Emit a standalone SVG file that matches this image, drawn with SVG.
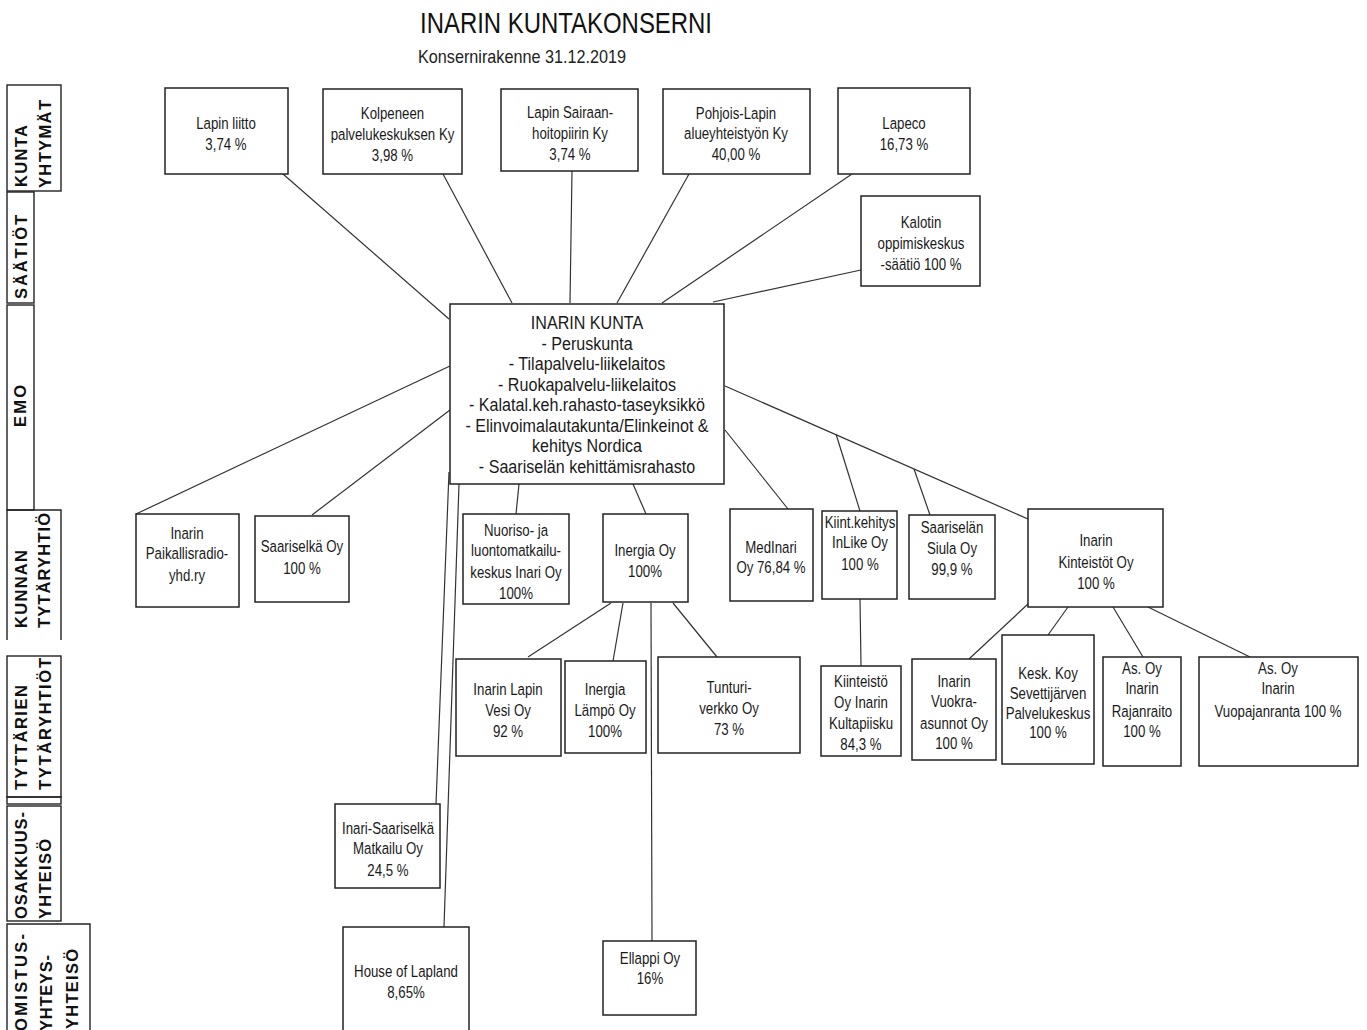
<svg xmlns="http://www.w3.org/2000/svg" width="1367" height="1030" viewBox="0 0 1367 1030">
<style>
.box{fill:#fff;stroke:#222;stroke-width:1.5}
.side{fill:none;stroke:#222;stroke-width:1.4}
.t{font-family:"Liberation Sans",Arial,sans-serif;font-size:17px;fill:#1a1a1a;text-anchor:middle}
.m{font-family:"Liberation Sans",Arial,sans-serif;font-size:18.5px;fill:#1a1a1a;text-anchor:middle}
.lbl{font-family:"Liberation Sans",Arial,sans-serif;font-weight:bold;font-size:16.5px;fill:#111}
.c{stroke:#333;stroke-width:1.2;fill:none}
</style>
<rect width="1367" height="1030" fill="#fff"/>
<g id="title">
<text x="420" y="33" font-family="Liberation Sans, Arial, sans-serif" font-size="30" fill="#111" textLength="292" lengthAdjust="spacingAndGlyphs">INARIN KUNTAKONSERNI</text>
<text x="418" y="63" font-family="Liberation Sans, Arial, sans-serif" font-size="19" fill="#222" textLength="208" lengthAdjust="spacingAndGlyphs">Konsernirakenne 31.12.2019</text>
</g>
<g id="side-labels">
<rect class="side" x="7" y="85" width="54" height="106"/>
<rect class="side" x="7" y="192" width="27" height="111"/>
<rect class="side" x="7" y="305" width="27" height="205"/>
<path class="side" d="M7,640 V510 H61 V640"/>
<rect class="side" x="7" y="656" width="54" height="141"/>
<rect class="side" x="7" y="797" width="54" height="7"/>
<rect class="side" x="7" y="806" width="54" height="115"/>
<path class="side" d="M7,1031 V924 H90 V1031" stroke-width="2"/>
<text class="lbl" transform="translate(27 187) rotate(-90)" textLength="62" lengthAdjust="spacing">KUNTA</text>
<text class="lbl" transform="translate(51 188) rotate(-90)" textLength="88" lengthAdjust="spacing">YHTYMÄT</text>
<text class="lbl" transform="translate(27 299) rotate(-90)" textLength="84" lengthAdjust="spacing">SÄÄTIÖT</text>
<text class="lbl" transform="translate(26 427) rotate(-90)" textLength="42" lengthAdjust="spacing">EMO</text>
<text class="lbl" transform="translate(27 628) rotate(-90)" textLength="78" lengthAdjust="spacing">KUNNAN</text>
<text class="lbl" transform="translate(50 628) rotate(-90)" textLength="115" lengthAdjust="spacing">TYTÄRYHTIÖ</text>
<text class="lbl" transform="translate(27 790) rotate(-90)" textLength="105" lengthAdjust="spacing">TYTTÄRIEN</text>
<text class="lbl" transform="translate(51 790) rotate(-90)" textLength="132" lengthAdjust="spacing">TYTÄRYHTIÖT</text>
<text class="lbl" transform="translate(27 919) rotate(-90)" textLength="107" lengthAdjust="spacing">OSAKKUUS-</text>
<text class="lbl" transform="translate(51 919) rotate(-90)" textLength="80" lengthAdjust="spacing">YHTEISÖ</text>
<text class="lbl" transform="translate(27 1031) rotate(-90)" textLength="97" lengthAdjust="spacing">OMISTUS-</text>
<text class="lbl" transform="translate(52 1031) rotate(-90)" textLength="76" lengthAdjust="spacing">YHTEYS-</text>
<text class="lbl" transform="translate(78 1029) rotate(-90)" textLength="80" lengthAdjust="spacing">YHTEISÖ</text>
</g>
<g id="connectors">
<line class="c" x1="283" y1="174" x2="449" y2="319"/>
<line class="c" x1="443" y1="174" x2="512" y2="303"/>
<line class="c" x1="572" y1="171" x2="570" y2="303"/>
<line class="c" x1="689" y1="174" x2="617" y2="303"/>
<line class="c" x1="852" y1="174" x2="662" y2="303"/>
<line class="c" x1="861" y1="270" x2="713" y2="302"/>
<line class="c" x1="450" y1="366" x2="136" y2="514"/>
<line class="c" x1="450" y1="410" x2="312" y2="515"/>
<line class="c" x1="449" y1="472" x2="436" y2="804"/>
<line class="c" x1="459" y1="484" x2="444" y2="927"/>
<line class="c" x1="519" y1="484" x2="516" y2="514"/>
<line class="c" x1="633" y1="484" x2="646" y2="514"/>
<line class="c" x1="725" y1="430" x2="788" y2="509"/>
<line class="c" x1="725" y1="386" x2="1028" y2="519"/>
<line class="c" x1="836" y1="434" x2="860" y2="511"/>
<line class="c" x1="914" y1="469" x2="930" y2="515"/>
<line class="c" x1="611" y1="603" x2="528" y2="657"/>
<line class="c" x1="623" y1="603" x2="613" y2="661"/>
<line class="c" x1="673" y1="603" x2="717" y2="657"/>
<line class="c" x1="651" y1="603" x2="652" y2="941"/>
<line class="c" x1="860" y1="599" x2="861" y2="666"/>
<line class="c" x1="1028" y1="604" x2="969" y2="659"/>
<line class="c" x1="1068" y1="607" x2="1048" y2="635"/>
<line class="c" x1="1113" y1="607" x2="1143" y2="657"/>
<line class="c" x1="1148" y1="607" x2="1250" y2="657"/>
</g>
<g id="n-lapin-liitto"><rect class="box" x="165" y="88" width="123" height="86"/>
<text class="t" transform="translate(226 0) scale(.78 1)"><tspan x="0" y="129">Lapin liitto</tspan><tspan x="0" y="150">3,74 %</tspan></text></g>
<g id="n-kolpeneen"><rect class="box" x="323" y="89" width="139" height="85"/>
<text class="t" transform="translate(392.5 0) scale(.78 1)"><tspan x="0" y="119">Kolpeneen</tspan><tspan x="0" y="140">palvelukeskuksen Ky</tspan><tspan x="0" y="161">3,98 %</tspan></text></g>
<g id="n-sairaanhoitopiiri"><rect class="box" x="501" y="89" width="137" height="82"/>
<text class="t" transform="translate(570 0) scale(.78 1)"><tspan x="0" y="118">Lapin Sairaan-</tspan><tspan x="0" y="139">hoitopiirin Ky</tspan><tspan x="0" y="160">3,74 %</tspan></text></g>
<g id="n-pohjois-lapin"><rect class="box" x="663" y="89" width="147" height="85"/>
<text class="t" transform="translate(736 0) scale(.78 1)"><tspan x="0" y="119">Pohjois-Lapin</tspan><tspan x="0" y="139">alueyhteistyön Ky</tspan><tspan x="0" y="160">40,00 %</tspan></text></g>
<g id="n-lapeco"><rect class="box" x="838" y="88" width="132" height="86"/>
<text class="t" transform="translate(904 0) scale(.78 1)"><tspan x="0" y="129">Lapeco</tspan><tspan x="0" y="150">16,73 %</tspan></text></g>
<g id="n-kalotin"><rect class="box" x="861" y="196" width="119" height="90"/>
<text class="t" transform="translate(921 0) scale(.78 1)"><tspan x="0" y="228">Kalotin</tspan><tspan x="0" y="249">oppimiskeskus</tspan><tspan x="0" y="270">-säätiö 100 %</tspan></text></g>
<g id="n-inarin-kunta"><rect class="box" x="450" y="304" width="274" height="180"/>
<text class="m" transform="translate(587 0) scale(.87 1)"><tspan x="0" y="329">INARIN  KUNTA</tspan><tspan x="0" y="350">- Peruskunta</tspan><tspan x="0" y="370">- Tilapalvelu-liikelaitos</tspan><tspan x="0" y="391">- Ruokapalvelu-liikelaitos</tspan><tspan x="0" y="411">- Kalatal.keh.rahasto-taseyksikkö</tspan><tspan x="0" y="432">- Elinvoimalautakunta/Elinkeinot  &amp;</tspan><tspan x="0" y="452">kehitys Nordica</tspan><tspan x="0" y="473">- Saariselän  kehittämisrahasto</tspan></text></g>
<g id="n-paikallisradio"><rect class="box" x="136" y="514" width="103" height="93"/>
<text class="t" transform="translate(187 0) scale(.78 1)"><tspan x="0" y="539">Inarin</tspan><tspan x="0" y="559">Paikallisradio-</tspan><tspan x="0" y="581">yhd.ry</tspan></text></g>
<g id="n-saariselka"><rect class="box" x="255" y="516" width="94" height="86"/>
<text class="t" transform="translate(302 0) scale(.78 1)"><tspan x="0" y="552">Saariselkä Oy</tspan><tspan x="0" y="574">100 %</tspan></text></g>
<g id="n-nuoriso"><rect class="box" x="463" y="514" width="106" height="90"/>
<text class="t" transform="translate(516 0) scale(.78 1)"><tspan x="0" y="536">Nuoriso- ja</tspan><tspan x="0" y="556">luontomatkailu-</tspan><tspan x="0" y="578">keskus Inari Oy</tspan><tspan x="0" y="599">100%</tspan></text></g>
<g id="n-inergia"><rect class="box" x="603" y="514" width="85" height="88"/>
<text class="t" transform="translate(645 0) scale(.78 1)"><tspan x="0" y="556">Inergia Oy</tspan><tspan x="0" y="577">100%</tspan></text></g>
<g id="n-medinari"><rect class="box" x="730" y="509" width="83" height="92"/>
<text class="t" transform="translate(771 0) scale(.78 1)"><tspan x="0" y="553">MedInari</tspan><tspan x="0" y="573">Oy 76,84 %</tspan></text></g>
<g id="n-inlike"><rect class="box" x="822" y="511" width="75" height="88"/>
<text class="t" transform="translate(860 0) scale(.78 1)"><tspan x="0" y="528">Kiint.kehitys</tspan><tspan x="0" y="548">InLike Oy</tspan><tspan x="0" y="570">100 %</tspan></text></g>
<g id="n-siula"><rect class="box" x="909" y="515" width="86" height="84"/>
<text class="t" transform="translate(952 0) scale(.78 1)"><tspan x="0" y="533">Saariselän</tspan><tspan x="0" y="554">Siula Oy</tspan><tspan x="0" y="575">99,9 %</tspan></text></g>
<g id="n-kiinteistot"><rect class="box" x="1028" y="509" width="135" height="98"/>
<text class="t" transform="translate(1096 0) scale(.78 1)"><tspan x="0" y="546">Inarin</tspan><tspan x="0" y="568">Kinteistöt Oy</tspan><tspan x="0" y="589">100 %</tspan></text></g>
<g id="n-vesi"><rect class="box" x="456" y="659" width="105" height="97"/>
<text class="t" transform="translate(508 0) scale(.78 1)"><tspan x="0" y="695">Inarin Lapin</tspan><tspan x="0" y="716">Vesi Oy</tspan><tspan x="0" y="737">92 %</tspan></text></g>
<g id="n-lampo"><rect class="box" x="565" y="661" width="81" height="92"/>
<text class="t" transform="translate(605 0) scale(.78 1)"><tspan x="0" y="695">Inergia</tspan><tspan x="0" y="716">Lämpö Oy</tspan><tspan x="0" y="737">100%</tspan></text></g>
<g id="n-tunturiverkko"><rect class="box" x="658" y="657" width="142" height="96"/>
<text class="t" transform="translate(729 0) scale(.78 1)"><tspan x="0" y="693">Tunturi-</tspan><tspan x="0" y="714">verkko Oy</tspan><tspan x="0" y="735">73 %</tspan></text></g>
<g id="n-kultapiisku"><rect class="box" x="821" y="666" width="80" height="90"/>
<text class="t" transform="translate(861 0) scale(.78 1)"><tspan x="0" y="687">Kiinteistö</tspan><tspan x="0" y="708">Oy Inarin</tspan><tspan x="0" y="729">Kultapiisku</tspan><tspan x="0" y="750">84,3 %</tspan></text></g>
<g id="n-vuokra"><rect class="box" x="912" y="659" width="84" height="101"/>
<text class="t" transform="translate(954 0) scale(.78 1)"><tspan x="0" y="687">Inarin</tspan><tspan x="0" y="707">Vuokra-</tspan><tspan x="0" y="729">asunnot Oy</tspan><tspan x="0" y="749">100 %</tspan></text></g>
<g id="n-sevettijarvi"><rect class="box" x="1002" y="635" width="92" height="129"/>
<text class="t" transform="translate(1048 0) scale(.78 1)"><tspan x="0" y="679">Kesk. Koy</tspan><tspan x="0" y="699">Sevettijärven</tspan><tspan x="0" y="719">Palvelukeskus</tspan><tspan x="0" y="738">100 %</tspan></text></g>
<g id="n-rajanraito"><rect class="box" x="1103" y="657" width="78" height="109"/>
<text class="t" transform="translate(1142 0) scale(.78 1)"><tspan x="0" y="674">As. Oy</tspan><tspan x="0" y="694">Inarin</tspan><tspan x="0" y="717">Rajanraito</tspan><tspan x="0" y="737">100 %</tspan></text></g>
<g id="n-vuopajanranta"><rect class="box" x="1199" y="657" width="159" height="109"/>
<text class="t" transform="translate(1278 0) scale(.78 1)"><tspan x="0" y="674">As. Oy</tspan><tspan x="0" y="694">Inarin</tspan><tspan x="0" y="717">Vuopajanranta 100 %</tspan></text></g>
<g id="n-matkailu"><rect class="box" x="335" y="804" width="105" height="84"/>
<text class="t" transform="translate(388 0) scale(.78 1)"><tspan x="0" y="834">Inari-Saariselkä</tspan><tspan x="0" y="854">Matkailu  Oy</tspan><tspan x="0" y="876">24,5 %</tspan></text></g>
<g id="n-house-of-lapland"><rect class="box" x="343" y="927" width="126" height="106"/>
<text class="t" transform="translate(406 0) scale(.78 1)"><tspan x="0" y="977">House of Lapland</tspan><tspan x="0" y="998">8,65%</tspan></text></g>
<g id="n-ellappi"><rect class="box" x="603" y="941" width="93" height="74"/>
<text class="t" transform="translate(650 0) scale(.78 1)"><tspan x="0" y="964">Ellappi Oy</tspan><tspan x="0" y="984">16%</tspan></text></g>
</svg>
